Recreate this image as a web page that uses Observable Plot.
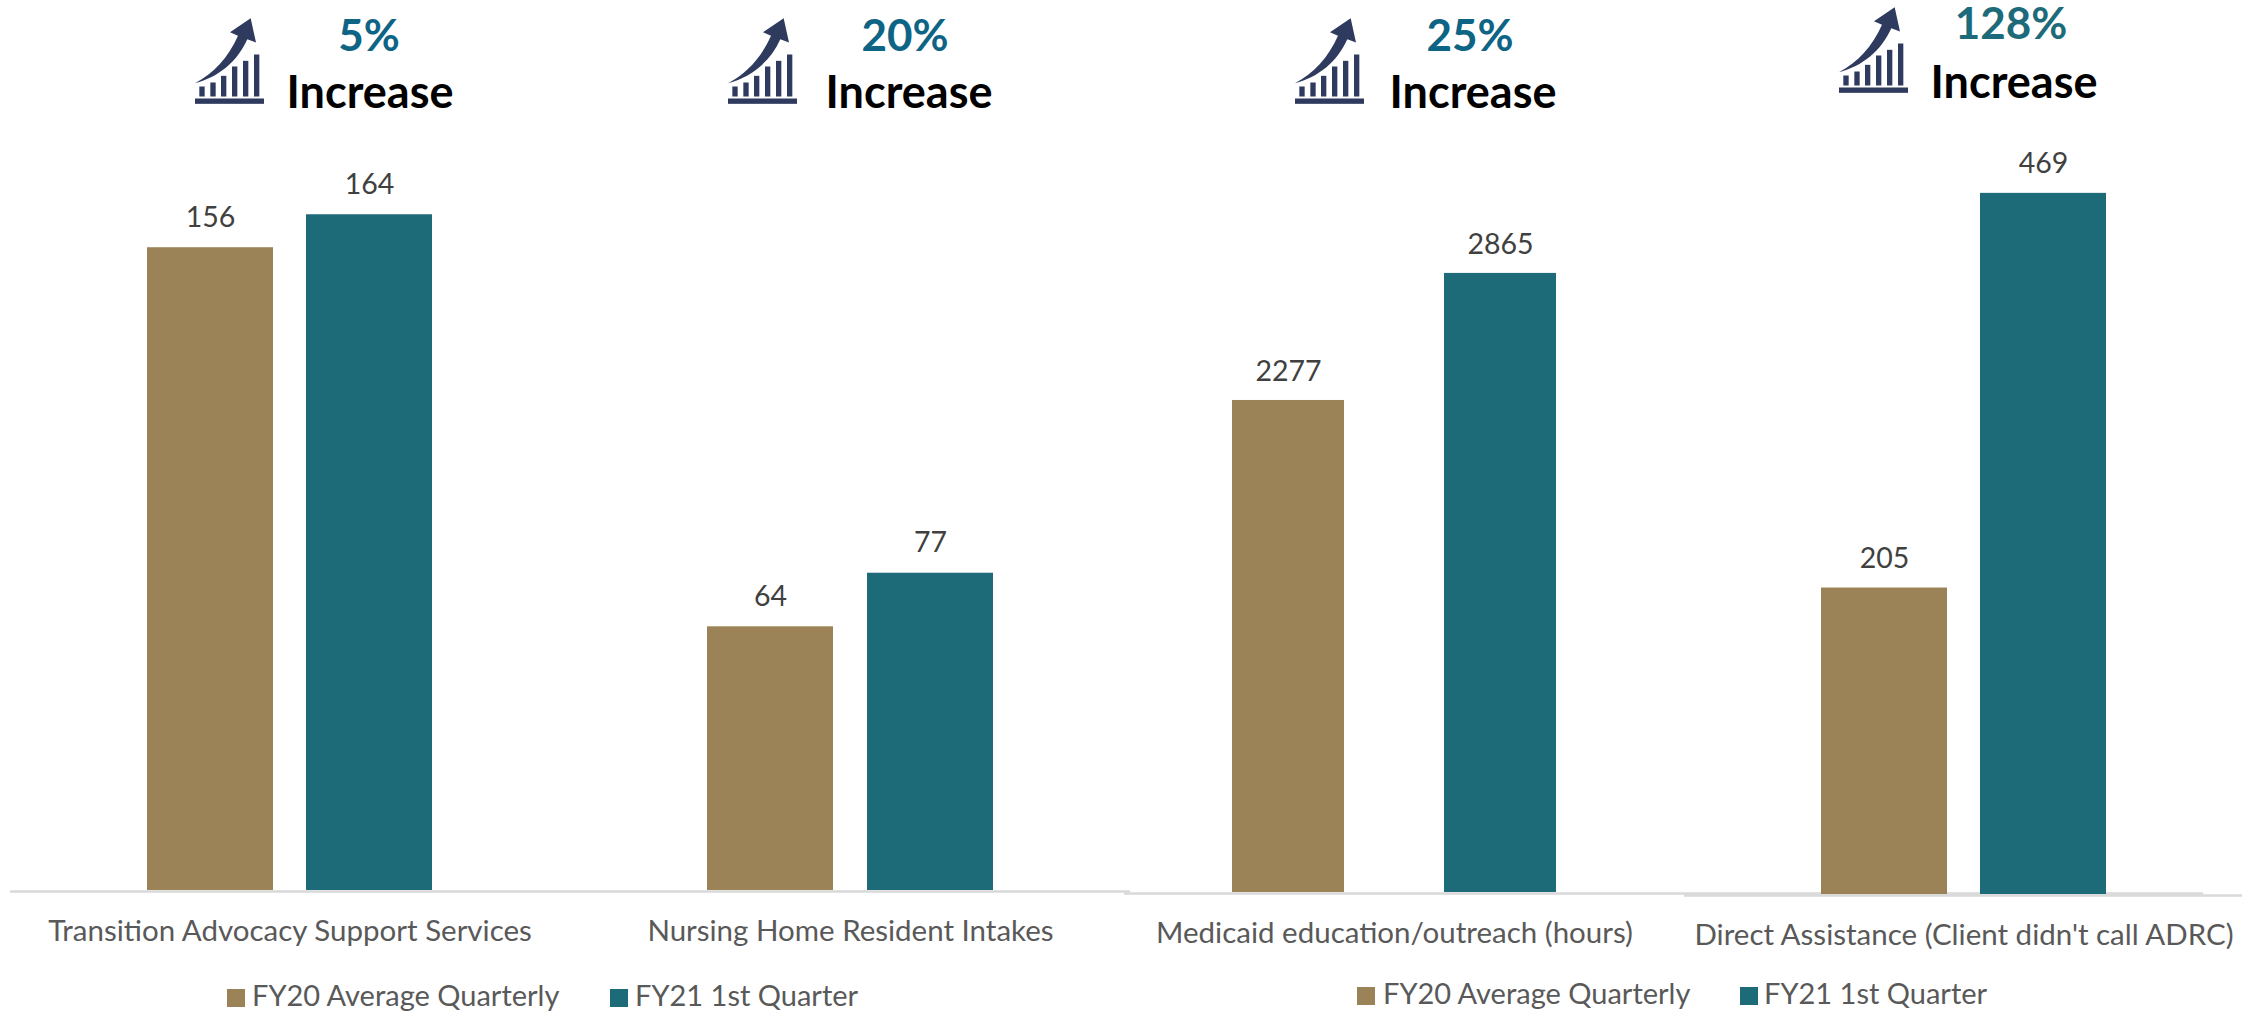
<!DOCTYPE html>
<html>
<head>
<meta charset="utf-8">
<script src="https://cdn.jsdelivr.net/npm/d3@7"></script>
<script src="https://cdn.jsdelivr.net/npm/@observablehq/plot@0.6"></script>
<style>
  html, body { margin: 0; background: #fff; }
  #page { position: relative; width: 2252px; height: 1012px; overflow: hidden; font-family: Lato, sans-serif; }
  .pct, .inc { position: absolute; transform: translateX(-50%); font-weight: 700; line-height: 1; white-space: nowrap; }
  .pct { font-size: 44px; line-height: 0.9; }
  .inc { font-size: 45px; color: #000; }
  .icon { position: absolute; width: 69px; height: 86px; }
  .key { position: absolute; font-size: 29px; line-height: 1; color: #595959; white-space: nowrap; }
  .swatch { position: absolute; width: 18px; height: 18px; }
</style>
</head>
<body>
<div id="page">
  <svg width="0" height="0" style="position:absolute">
    <symbol id="growth" viewBox="135 55 207 257">
      <rect x="135" y="296" width="207" height="16"/>
      <rect x="148" y="260" width="16" height="30"/>
      <rect x="181" y="248" width="16" height="42"/>
      <rect x="213" y="228" width="16" height="62"/>
      <rect x="246" y="200" width="16" height="90"/>
      <rect x="279" y="183" width="16" height="107"/>
      <rect x="312" y="164" width="16" height="126"/>
      <path d="M135 250 C190 222 236 172 264 108 L240 97 L302 55 L318 128 L292 118 C262 185 205 232 135 250 Z"/>
    </symbol>
  </svg>
</div>
<script>
const categories = [
  "Transition Advocacy Support Services",
  "Nursing Home Resident Intakes",
  "Medicaid education/outreach (hours)",
  "Direct Assistance (Client didn't call ADRC)"
];
const seriesNames = ["FY20 Average Quarterly", "FY21 1st Quarter"];
const fy20Values = [156, 64, 2277, 205];
const fy21Values = [164, 77, 2865, 469];
const increases = ["5%", "20%", "25%", "128%"];
const seriesColors = ["#9c8357", "#1d6a79"];

// Each chart has its own value axis and frame on the page.
const panels = [
  {left: 10,   right: 570,  barsLeft: 147,  barsRight: 432,  baseline: 890, yMax: 216,  gap: 33 / 159, labelDy: -30},
  {left: 570,  right: 1130, barsLeft: 707,  barsRight: 993,  baseline: 890, yMax: 216,  gap: 34 / 160, labelDy: -30},
  {left: 1124, right: 2203, barsLeft: 1232, barsRight: 1556, baseline: 892, yMax: 4128, gap: 100 / 212, labelDy: -29},
  {left: 1684, right: 2242, barsLeft: 1821, barsRight: 2106, baseline: 894, yMax: 598,  gap: 33 / 159, labelDy: -29}
];
const headers = [
  {icon: [195, 18],   pct: [369, 15, "#0d6484"],  inc: [370, 69]},
  {icon: [728, 18],   pct: [905, 15, "#0d6484"],  inc: [909, 69]},
  {icon: [1295, 18],  pct: [1470, 15, "#0d6484"], inc: [1473, 69]},
  {icon: [1839, 7],   pct: [2011, 3, "#1d6b7a"],  inc: [2014, 59]}
];
const legends = [
  {y: 989, swatches: [227, 610], labels: [252, 635]},
  {y: 987, swatches: [1357, 1740], labels: [1383, 1764]}
];

const page = document.getElementById("page");

panels.forEach((p, i) => {
  const rows = seriesNames.map((series, s) => ({
    series,
    value: (s === 0 ? fy20Values : fy21Values)[i]
  }));
  const marginLeft = p.barsLeft - p.left;
  const marginRight = p.right - p.barsRight;
  const chart = Plot.plot({
    width: p.right - p.left,
    height: p.baseline + 70,
    marginTop: 0,
    marginBottom: 70,
    marginLeft,
    marginRight,
    style: {background: "transparent", fontFamily: "Lato, sans-serif", position: "absolute", top: "0px", left: p.left + "px", overflow: "visible"},
    x: {domain: seriesNames, axis: null, paddingInner: p.gap, paddingOuter: 0, round: false},
    y: {domain: [0, p.yMax], axis: null},
    color: {domain: seriesNames, range: seriesColors},
    marks: [
      Plot.ruleY([0], {
        stroke: "#d9d9d9",
        strokeWidth: 2.5,
        dy: 1,
        insetLeft: -marginLeft,
        insetRight: -marginRight
      }),
      Plot.barY(rows, {x: "series", y: "value", fill: "series"}),
      Plot.text(rows, {
        x: "series",
        y: "value",
        text: d => String(d.value),
        dy: p.labelDy,
        fontSize: 28.5,
        fill: "#404040"
      }),
      Plot.text([categories[i]], {
        frameAnchor: "bottom",
        lineAnchor: "middle",
        dy: 41,
        fontSize: 29.5,
        fill: "#595959"
      })
    ]
  });
  page.appendChild(chart);
});

headers.forEach((h, i) => {
  page.insertAdjacentHTML("beforeend",
    `<svg class="icon" style="left:${h.icon[0]}px;top:${h.icon[1]}px;fill:#2f3a5f"><use href="#growth"/></svg>` +
    `<div class="pct" style="left:${h.pct[0]}px;top:${h.pct[1]}px;color:${h.pct[2]}">${increases[i]}</div>` +
    `<div class="inc" style="left:${h.inc[0]}px;top:${h.inc[1]}px">Increase</div>`);
});

legends.forEach(l => {
  seriesNames.forEach((name, s) => {
    page.insertAdjacentHTML("beforeend",
      `<div class="swatch" style="left:${l.swatches[s]}px;top:${l.y}px;background:${seriesColors[s]}"></div>` +
      `<div class="key" style="left:${l.labels[s]}px;top:${l.y - 9}px">${name}</div>`);
  });
});
</script>
</body>
</html>
